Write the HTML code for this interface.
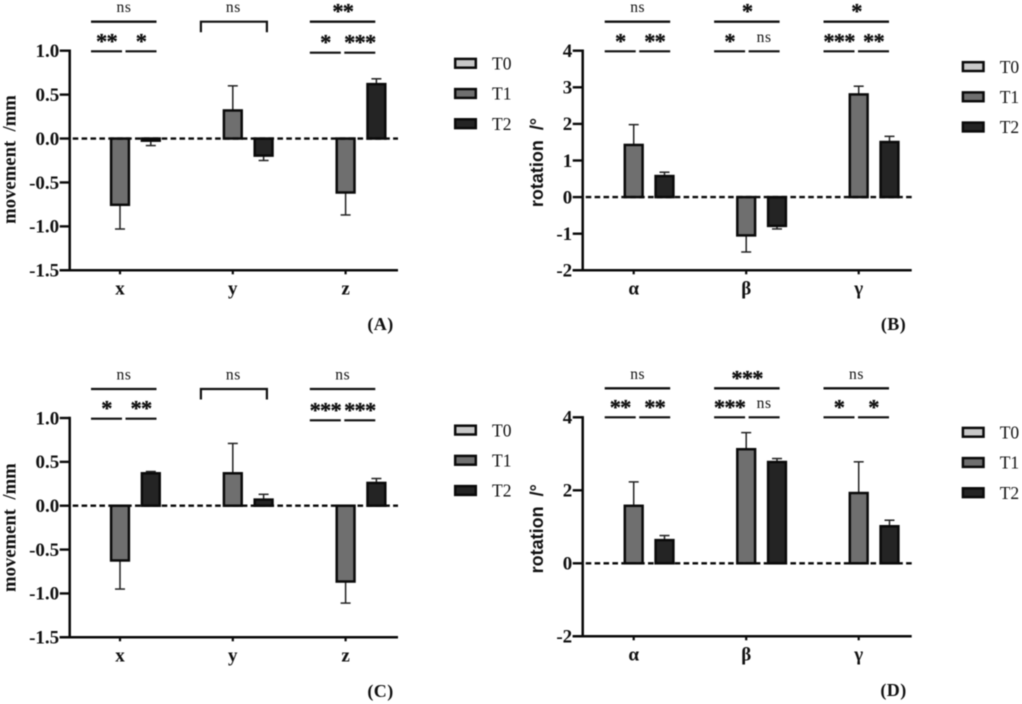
<!DOCTYPE html>
<html>
<head>
<meta charset="utf-8">
<title>Movement and rotation bar charts</title>
<style>
html,body{margin:0;padding:0;background:#fff;}
svg{display:block;}
text{font-family:"Liberation Serif",serif;fill:#111;white-space:pre;}
.blur{filter:blur(0.4px);}
</style>
</head>
<body>
<svg id="figure" width="1022" height="704" viewBox="0 0 1022 704" xmlns="http://www.w3.org/2000/svg"></svg>
<script>
// Panel A
const aCategories = ['x', 'y', 'z'];
const aTicks = [1.0, 0.5, 0.0, -0.5, -1.0, -1.5];
const aTickLabels = ['1.0', '0.5', '0.0', '-0.5', '-1.0', '-1.5'];
const aT1Values = [-0.76, 0.33, -0.62];
const aT1Errors = [0.27, 0.27, 0.25];
const aT2Values = [-0.03, -0.20, 0.63];
const aT2Errors = [0.05, 0.05, 0.05];
const aSigOverall = ['ns', 'ns', '**'];
const aSigLeft = ['**', '', '*'];
const aSigRight = ['*', '', '***'];

// Panel B
const bCategories = ['α', 'β', 'γ'];
const bTicks = [4, 3, 2, 1, 0, -1, -2];
const bTickLabels = ['4', '3', '2', '1', '0', '-1', '-2'];
const bT1Values = [1.45, -1.06, 2.83];
const bT1Errors = [0.53, 0.44, 0.20];
const bT2Values = [0.60, -0.80, 1.53];
const bT2Errors = [0.08, 0.07, 0.13];
const bSigOverall = ['ns', '*', '*'];
const bSigLeft = ['*', '*', '***'];
const bSigRight = ['**', 'ns', '**'];

// Panel C
const cCategories = ['x', 'y', 'z'];
const cTicks = [1.0, 0.5, 0.0, -0.5, -1.0, -1.5];
const cTickLabels = ['1.0', '0.5', '0.0', '-0.5', '-1.0', '-1.5'];
const cT1Values = [-0.63, 0.38, -0.87];
const cT1Errors = [0.32, 0.33, 0.24];
const cT2Values = [0.38, 0.08, 0.27];
const cT2Errors = [0.01, 0.05, 0.04];
const cSigOverall = ['ns', 'ns', 'ns'];
const cSigLeft = ['*', '', '***'];
const cSigRight = ['**', '', '***'];

// Panel D
const dCategories = ['α', 'β', 'γ'];
const dTicks = [4, 2, 0, -2];
const dTickLabels = ['4', '2', '0', '-2'];
const dT1Values = [1.60, 3.15, 1.95];
const dT1Errors = [0.63, 0.43, 0.83];
const dT2Values = [0.66, 2.80, 1.04];
const dT2Errors = [0.10, 0.07, 0.14];
const dSigOverall = ['ns', '***', 'ns'];
const dSigLeft = ['**', '***', '*'];
const dSigRight = ['**', 'ns', '*'];

const legendLabels = ['T0', 'T1', 'T2'];

const NS = 'http://www.w3.org/2000/svg';
const fig = document.getElementById('figure');
const SERIES_FILL = ['#c9c9c9', '#6f6f6f', '#242424'];

function mk(parent, tag, attrs, text) {
  const el = document.createElementNS(NS, tag);
  for (const k in attrs) el.setAttribute(k, attrs[k]);
  if (text !== undefined) el.textContent = text;
  parent.appendChild(el);
  return el;
}

function drawSig(g, label, cx, lineY) {
  if (!label) return;
  const isStars = label.indexOf('*') >= 0;
  const t = mk(g, 'text', {
    x: cx, y: isStars ? lineY - 3 : lineY - 9.5,
    'text-anchor': 'middle',
    'font-size': isStars ? 22.5 : 15.5,
    'font-weight': isStars ? 'bold' : 'normal',
    'letter-spacing': isStars ? '-0.8' : '0.6',
    stroke: isStars ? '#111' : 'none',
    'stroke-width': isStars ? 0.3 : 0
  }, label);
  
  
}

function drawPanel(p) {
  const g = mk(fig, 'g', {class: 'blur'});
  
  

  const yMax = p.ticks[0];
  const yMin = p.ticks[p.ticks.length - 1];
  const yScale = v => p.yTop + (yMax - v) / (yMax - yMin) * (p.yBottom - p.yTop);
  const catX = i => p.catStart + i * p.catStep;
  const zeroY = yScale(0);

  // bars and error bars
  const seriesList = [
    {name: 't1', vals: p.t1, errs: p.t1e, offset: 0, fill: SERIES_FILL[1]},
    {name: 't2', vals: p.t2, errs: p.t2e, offset: p.slot, fill: SERIES_FILL[2]}
  ];
  seriesList.forEach(s => {
    s.vals.forEach((v, i) => {
      const cx = catX(i) + s.offset;
      const y = yScale(v);
      const errEnd = yScale(v + (v >= 0 ? s.errs[i] : -s.errs[i]));
      const err = mk(g, 'line', {x1: cx, x2: cx, y1: y, y2: errEnd, stroke: '#222', 'stroke-width': 1.5});
      
      
      const cap = mk(g, 'line', {x1: cx - 5, x2: cx + 5, y1: errEnd, y2: errEnd, stroke: '#222', 'stroke-width': 1.5});
      
      
      const edge = v >= 0 ? y + 0.9 : y - 0.5;
      const bar = mk(g, 'rect', {
        x: cx - 8.9, y: Math.min(edge, zeroY), width: 17.8, height: Math.abs(zeroY - edge),
        fill: s.fill, stroke: '#0a0a0a', 'stroke-width': 2.5
      });
      
      
    });
  });

  // zero reference line
  const zero = mk(g, 'line', {
    x1: p.axisX + 3, x2: p.axisEnd, y1: zeroY, y2: zeroY,
    stroke: '#0a0a0a', 'stroke-width': 2.4, 'stroke-dasharray': '5.6 3.3'
  });
  
  

  // y axis
  const yAxis = mk(g, 'line', {x1: p.axisX, x2: p.axisX, y1: p.yTop - 1.2, y2: p.yBottom + 1.2, stroke: '#0a0a0a', 'stroke-width': 2.5});
  
  
  p.ticks.forEach((t, i) => {
    const y = yScale(t);
    const tick = mk(g, 'line', {x1: p.axisX - 10, x2: p.axisX, y1: y, y2: y, stroke: '#0a0a0a', 'stroke-width': 2.4});
    
    
    const lab = mk(g, 'text', {x: p.axisX - 10.5, y: y + 6.3, 'text-anchor': 'end', 'font-size': 19, 'font-weight': 'bold'}, p.tickLabels[i]);
    
    
  });

  // x axis
  const xAxis = mk(g, 'line', {x1: p.axisX - 10, x2: p.axisEnd, y1: p.yBottom, y2: p.yBottom, stroke: '#0a0a0a', 'stroke-width': 2.5});
  
  
  p.cats.forEach((c, i) => {
    const x = catX(i);
    const tick = mk(g, 'line', {x1: x, x2: x, y1: p.yBottom, y2: p.yBottom + 4, stroke: '#0a0a0a', 'stroke-width': 2.2});
    
    
    const lab = mk(g, 'text', {x: x, y: p.yBottom + 24, 'text-anchor': 'middle', 'font-size': 19, 'font-weight': 'bold'}, c);
    
    
  });

  // y axis title
  const tx = p.titleX, ty = (p.yTop + p.yBottom) / 2 + p.titleShift;
  const title = mk(g, 'text', {
    x: tx, y: ty, transform: 'rotate(-90 ' + tx + ' ' + ty + ')',
    'text-anchor': 'middle', 'font-size': p.titleSize, 'font-weight': 'bold',
    style: p.titleSans ? 'font-family:"Liberation Sans",sans-serif' : ''
  }, p.title);
  
  

  // significance brackets
  p.sigOverall.forEach((label, i) => {
    const x1 = p.sigStart + i * 109.4;
    const x2 = x1 + 65.5;
    const isOpen = p.bracketed && i === 1;
    const low = i === 2 ? p.lowerY + p.lastLowerShift : p.lowerY;
    if (isOpen) {
      const br = mk(g, 'path', {
        d: 'M' + (x1 + 0.5) + ' ' + (p.upperY + 10.5) + 'V' + p.upperY + 'H' + (x2 + 1) + 'V' + (p.upperY + 10.5),
        fill: 'none', stroke: '#111', 'stroke-width': 2.2
      });
      
      
    } else {
      const top = mk(g, 'line', {x1: x1, x2: x2, y1: p.upperY, y2: p.upperY, stroke: '#111', 'stroke-width': 2.3});
      
      
      const l = mk(g, 'line', {x1: x1, x2: x1 + 31, y1: low, y2: low, stroke: '#111', 'stroke-width': 2.1});
      
      
      const r = mk(g, 'line', {x1: x1 + 34.5, x2: x2, y1: low, y2: low, stroke: '#111', 'stroke-width': 2.1});
      
      
    }
    drawSig(g, label, x1 + 33, p.upperY);
    drawSig(g, p.sigLeft[i], x1 + 15.5, low);
    drawSig(g, p.sigRight[i], x1 + 50, low);
  });

  // legend
  legendLabels.forEach((label, i) => {
    const y = p.legendY + i * 30.2;
    const sw = mk(g, 'rect', {x: p.legendX + 1.2, y: y + 1.2, width: 20.6, height: 8.8, fill: SERIES_FILL[i], stroke: '#0a0a0a', 'stroke-width': 2.5});
    
    
    const t = mk(g, 'text', {x: p.legendX + 38, y: y + 11.8, 'font-size': 17.5}, label);
    
    
  });

  // panel letter
  const pl = mk(g, 'text', {x: p.letterX, y: p.letterY, 'font-size': 18, 'font-weight': 'bold', 'text-anchor': 'middle', 'letter-spacing': '0.4'}, '(' + p.letter + ')');
  
  
}

drawPanel({
  letter: 'A', cats: aCategories, ticks: aTicks, tickLabels: aTickLabels,
  t1: aT1Values, t1e: aT1Errors, t2: aT2Values, t2e: aT2Errors,
  sigOverall: aSigOverall, sigLeft: aSigLeft, sigRight: aSigRight, bracketed: true,
  yTop: 50.7, yBottom: 270.3, axisX: 69.7, axisEnd: 398,
  catStart: 120, catStep: 112.8, slot: 30.8,
  sigStart: 91, upperY: 21.7, lowerY: 51.3, lastLowerShift: 1.4,
  title: 'movement  /mm', titleX: 15.5, titleShift: -1, titleSize: 18.7, titleSans: false,
  legendX: 454, legendY: 57.7, letterX: 380.5, letterY: 330
});
drawPanel({
  letter: 'B', cats: bCategories, ticks: bTicks, tickLabels: bTickLabels,
  t1: bT1Values, t1e: bT1Errors, t2: bT2Values, t2e: bT2Errors,
  sigOverall: bSigOverall, sigLeft: bSigLeft, sigRight: bSigRight, bracketed: false,
  yTop: 50.7, yBottom: 270.3, axisX: 582.7, axisEnd: 911.7,
  catStart: 633.7, catStep: 112.5, slot: 30.8,
  sigStart: 604.7, upperY: 21.7, lowerY: 51.3, lastLowerShift: 0,
  title: 'rotation  /°', titleX: 543, titleShift: 2, titleSize: 18, titleSans: true,
  legendX: 961.7, legendY: 61, letterX: 893.5, letterY: 330
});
drawPanel({
  letter: 'C', cats: cCategories, ticks: cTicks, tickLabels: cTickLabels,
  t1: cT1Values, t1e: cT1Errors, t2: cT2Values, t2e: cT2Errors,
  sigOverall: cSigOverall, sigLeft: cSigLeft, sigRight: cSigRight, bracketed: true,
  yTop: 418, yBottom: 637.3, axisX: 69.7, axisEnd: 398,
  catStart: 120, catStep: 112.8, slot: 30.8,
  sigStart: 91, upperY: 389, lowerY: 418.7, lastLowerShift: 1.6,
  title: 'movement  /mm', titleX: 15.5, titleShift: 0, titleSize: 18.7, titleSans: false,
  legendX: 454, legendY: 424.5, letterX: 380.5, letterY: 697
});
drawPanel({
  letter: 'D', cats: dCategories, ticks: dTicks, tickLabels: dTickLabels,
  t1: dT1Values, t1e: dT1Errors, t2: dT2Values, t2e: dT2Errors,
  sigOverall: dSigOverall, sigLeft: dSigLeft, sigRight: dSigRight, bracketed: false,
  yTop: 417.3, yBottom: 636.3, axisX: 582.7, axisEnd: 911.7,
  catStart: 633.7, catStep: 112.5, slot: 30.8,
  sigStart: 604.7, upperY: 388.3, lowerY: 417.3, lastLowerShift: 0,
  title: 'rotation  /°', titleX: 543, titleShift: 2, titleSize: 18, titleSans: true,
  legendX: 961.7, legendY: 426.7, letterX: 893.5, letterY: 696
});
</script>
</body>
</html>
